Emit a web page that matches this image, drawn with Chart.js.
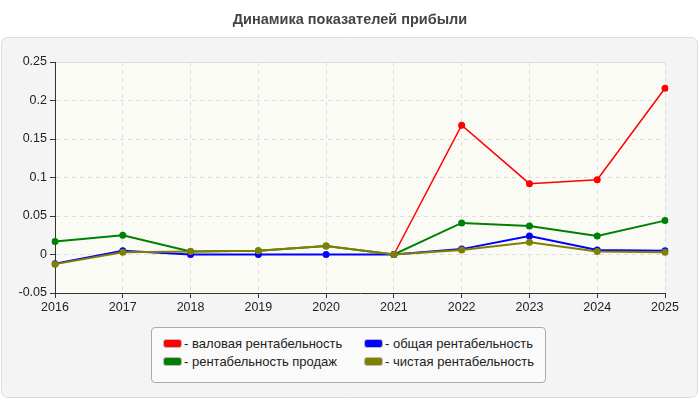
<!DOCTYPE html>
<html>
<head>
<meta charset="utf-8">
<script src="https://cdn.jsdelivr.net/npm/chart.js@4/dist/chart.umd.min.js"></script>
<style>
html,body{margin:0;padding:0;background:#fff;}
#wrap{position:relative;width:700px;height:400px;font-family:"Liberation Sans",Arial,sans-serif;}
#title{position:absolute;left:0;top:11px;width:700px;text-align:center;font-weight:bold;font-size:14.5px;color:#444;}
#legend{position:absolute;left:151px;top:327px;width:395px;height:56px;border:1px solid #aaa;border-radius:4px;background:#fafafa;box-sizing:border-box;}
.item{position:absolute;font-size:13px;color:#222;line-height:15px;white-space:nowrap;}
.sw{display:inline-block;width:17px;height:7px;border-radius:3px;border:1px solid #bbb;vertical-align:middle;margin-right:2px;position:relative;top:-1px;}
</style>
</head>
<body>
<div id="wrap">
<canvas id="c" width="700" height="400"></canvas>
<div id="title">Динамика показателей прибыли</div>
<div id="legend"></div>
</div>
<script>
const years = ['2016','2017','2018','2019','2020','2021','2022','2023','2024','2025'];
const grossMargin = [null,null,null,null,null,0,0.168,0.092,0.097,0.216];
const salesMargin = [0.017,0.025,0.004,0.005,0.011,0,0.041,0.037,0.024,0.044];
const totalMargin = [-0.012,0.005,0,0,0,0,0.007,0.024,0.006,0.005];
const netMargin = [-0.0125,0.003,0.004,0.005,0.011,0,0.006,0.016,0.004,0.003];
const seriesNames = ['- валовая рентабельность','- рентабельность продаж','- общая рентабельность','- чистая рентабельность'];
const seriesColors = ['#ff0000','#008000','#0000ff','#808000'];
const yMin = -0.05, yMax = 0.25, yStep = 0.05;

const bgPlugin = {
  id:'bg',
  beforeDraw(chart){
    const ctx = chart.ctx, a = chart.chartArea;
    ctx.save();
    ctx.beginPath();
    ctx.roundRect(1.5,37.5,696,360,6);
    ctx.fillStyle='#f4f4f4';
    ctx.fill();
    ctx.strokeStyle='#dcdcdc';
    ctx.lineWidth=1;
    ctx.stroke();
    ctx.fillStyle='#fdfdf7';
    ctx.fillRect(a.left,a.top,a.right-a.left,a.bottom-a.top);
    ctx.beginPath();
    ctx.rect(a.left,a.top,a.right-a.left,a.bottom-a.top);
    ctx.clip();
    ctx.strokeStyle='rgba(0,0,0,0.035)';
    ctx.lineWidth=1;
    ctx.beginPath();
    const h=a.bottom-a.top;
    for(let x=a.left-h;x<a.right;x+=4){
      ctx.moveTo(x,a.bottom);ctx.lineTo(x+h,a.top);
    }
    ctx.stroke();
    ctx.restore();
    ctx.save();
    ctx.strokeStyle='#dddddd';
    ctx.lineWidth=1;
    ctx.beginPath();
    ctx.moveTo(a.left,a.top+0.5);ctx.lineTo(a.right,a.top+0.5);
    ctx.stroke();
    ctx.restore();
  }
};

const dataArrays=[grossMargin,salesMargin,totalMargin,netMargin];
const widths=[1.5,2,2,2];
const orders=[3,2,1,0];
const datasets=dataArrays.map((d,i)=>({
  label:seriesNames[i],data:d,borderColor:seriesColors[i],backgroundColor:seriesColors[i],order:orders[i],
  borderWidth:widths[i],pointRadius:3.5,pointHoverRadius:3.5,pointBorderWidth:0,tension:0,fill:false
}));

new Chart(document.getElementById('c'),{
  type:'line',
  data:{labels:years,datasets},
  options:{
    responsive:false,animation:false,
    layout:{padding:{left:0,right:35,top:62,bottom:0}},
    plugins:{legend:{display:false},title:{display:false},tooltip:{enabled:false}},
    scales:{
      x:{
        offset:false,
        grid:{color:'#dddddd',tickColor:'#333',tickLength:5,drawOnChartArea:true},
        border:{display:true,color:'#333',width:1,dash:[4,4]},
        ticks:{color:'#222',font:{family:'"Liberation Sans", Arial',size:12.5},padding:2,maxRotation:0,autoSkip:false},
        afterFit(s){s.height=107;}
      },
      y:{
        min:yMin,max:yMax,
        grid:{color:'#dddddd',tickColor:'#333',tickLength:5},
        border:{display:true,color:'#333',width:1,dash:[4,4]},
        ticks:{stepSize:yStep,color:'#222',font:{family:'"Liberation Sans", Arial',size:12.5},padding:3,
          callback:v=>String(+v.toFixed(2))},
        afterFit(s){s.width=55;}
      }
    }
  },
  plugins:[bgPlugin]
});

const legend=document.getElementById('legend');
const pos=[[11,8],[11,26],[212,8],[212,26]];
seriesNames.forEach((n,i)=>{
  const el=document.createElement('div');
  el.className='item';
  el.style.left=pos[i][0]+'px';el.style.top=pos[i][1]+'px';
  el.innerHTML='<span class="sw" style="background:'+seriesColors[i]+'"></span>'+n;
  legend.appendChild(el);
});
</script>
</body>
</html>
